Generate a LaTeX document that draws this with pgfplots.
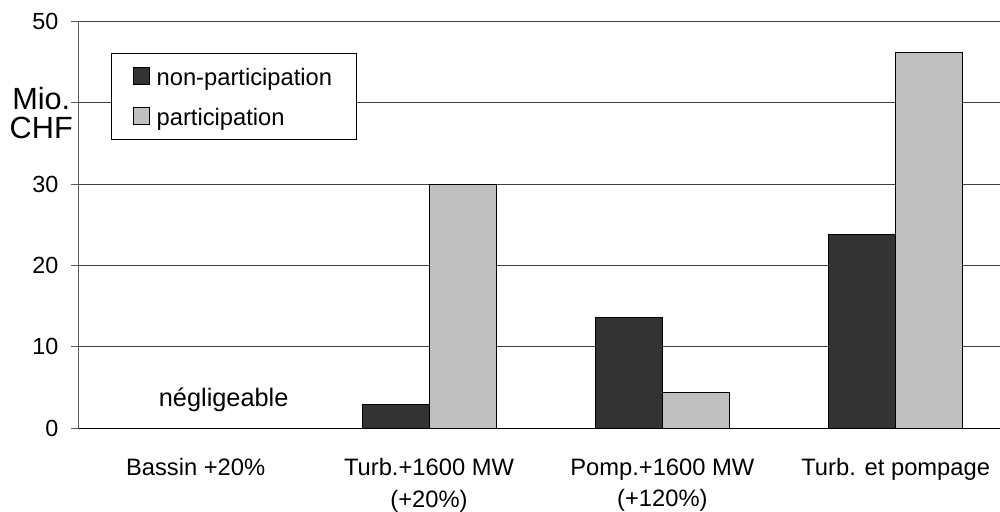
\documentclass[border=0pt]{standalone}
\usepackage{pgfplots}
\pgfplotsset{compat=1.18}
\usepackage{fontspec}
\setmainfont{Liberation Sans}
\definecolor{darkbar}{HTML}{333333}
\definecolor{lightbar}{HTML}{C0C0C0}
\begin{document}
\begin{tikzpicture}
\begin{axis}[
  at={(0,0)}, anchor=south west,
  scale only axis,
  width=690.75pt, height=305pt,
  xmin=-0.5, xmax=3.447,
  ymin=0, ymax=50,
  axis lines=left,
  axis line style={-, line width=0.75pt},
  x axis line style={black},
  y axis line style={black!65},
  ytick={0,10,20,30,40,50},
  yticklabels={0,10,20,30,,50},
  ymajorgrids,
  grid style={black!75, line width=0.75pt},
  xtick={0,1,2,3},
  xticklabels={Bassin +20\%, {Turb.+1600 MW\\(+20\%)}, {Pomp.+1600 MW\\(+120\%)}, Turb. et pompage},
  xticklabel style={align=center, font=\fontsize{17.8}{23.5}\selectfont, yshift=-13.5pt},
  major x tick style={draw=none},
  extra x ticks={-0.5,0.5,1.5,2.5},
  extra x tick labels={},
  extra x tick style={major tick length=6pt, tick align=outside, tick style={draw=black!65, line width=0.75pt}, grid=none},
  ytick style={draw=black!65, line width=0.75pt},
  tick align=outside,
  major tick length=6pt,
  yticklabel style={font=\fontsize{17.5}{21}\selectfont, xshift=-6pt},
  /pgf/number format/assume math mode=true,
  ybar=0pt,
  bar width=50.25pt,
  legend style={at={(0.0347,0.9225)}, anchor=north west, draw=black, line width=0.75pt,
    font=\fontsize{17.8}{21}\selectfont, inner xsep=16pt, inner ysep=9pt,
    row sep=13pt, nodes={text depth=0pt}},
  legend cell align=left,
  legend image code/.code={\draw[#1, line width=0.75pt] (0pt,-6pt) rectangle (12.5pt,6.5pt); \path[draw=none, fill=none] (0pt,0pt) rectangle (15.5pt,0pt);},
  clip=false,
]
\addplot[fill=darkbar, draw=black, line width=0.75pt] coordinates {(1,2.9) (2,13.6) (3,23.8)};
\addplot[fill=lightbar, draw=black, line width=0.75pt] coordinates {(1,30.0) (2,4.4) (3,46.2)};
\legend{non-participation, participation}
\node[font=\fontsize{19}{22}\selectfont] at (axis cs:0.12,3.45) {négligeable};
\node[anchor=east, align=center, font=\fontsize{23}{22}\selectfont, inner sep=0pt] at (rel axis cs:-0.0065,0.775) {Mio.\\CHF};
\end{axis}
\pgfresetboundingbox
\path (-59.25pt,-62.25pt) rectangle (690.75pt,321pt);
\end{tikzpicture}
\end{document}
